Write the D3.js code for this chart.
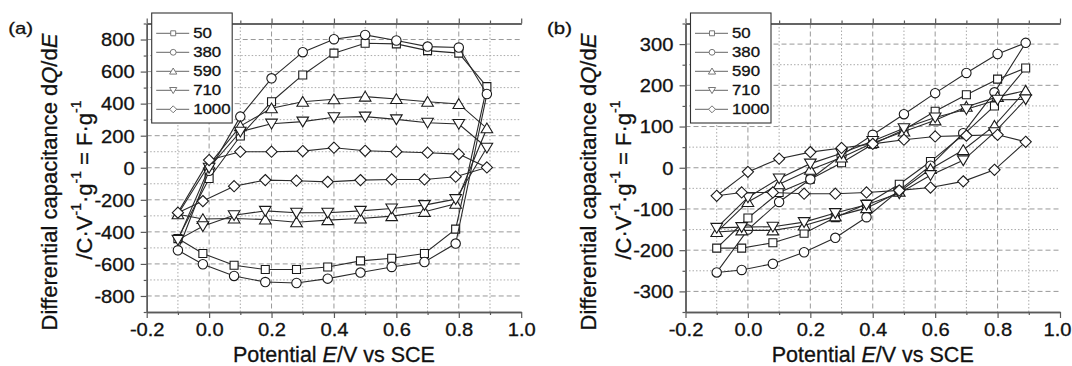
<!DOCTYPE html>
<html>
<head>
<meta charset="utf-8">
<script src="https://cdn.jsdelivr.net/npm/d3@7"></script>
<style>
  body { margin: 0; background: #fff; }
  text { font-family: "Liberation Sans", Arial, sans-serif; fill: #111; stroke: #111; stroke-width: 0.3px; }
</style>
</head>
<body>
<svg id="chart" width="1072" height="366"></svg>
<script>
// potentials along the loop: forward sweep, then back
const potentials = [-0.1, 0.0, 0.1, 0.2, 0.3, 0.4, 0.5, 0.6, 0.7, 0.8, 0.89,
  0.79, 0.69, 0.585, 0.485, 0.38, 0.28, 0.18, 0.08, -0.02, -0.1]

const legendLabels = ['50', '380', '590', '710', '1000']
const markerTypes = ['square', 'circle', 'up', 'down', 'diamond']

// panel (a)
const a50 = [-442, -67, 198, 412, 579, 715, 777, 773, 731, 715, 506, -383, -535, -565, -581, -619, -635, -635, -608, -535, -442]
const a380 = [-515, -19, 319, 558, 721, 802, 829, 794, 756, 750, 460, -473, -588, -619, -654, -692, -719, -713, -675, -602, -515]
const a590 = [-290, 20, 260, 371, 412, 427, 444, 429, 412, 398, 246, -225, -275, -302, -317, -327, -340, -323, -317, -320, -290]
const a710 = [-450, 0, 225, 275, 288, 315, 319, 302, 281, 273, 125, -196, -233, -254, -269, -281, -281, -269, -296, -365, -450]
const a1000 = [-280, 48, 100, 100, 104, 125, 106, 100, 94, 85, 2, -56, -73, -73, -77, -88, -81, -77, -115, -208, -280]

// panel (b)
const b50 = [-195, -122, -60, -28, 12, 57, 92, 137, 177, 215, 242, 150, 80, 15, -40, -88, -121, -159, -182, -195, -195]
const b380 = [-254, -150, -83, -28, 30, 80, 130, 181, 230, 276, 303, 183, 84, 5, -55, -120, -170, -205, -233, -248, -254]
const b590 = [-156, -83, -40, -5, 25, 60, 88, 115, 148, 172, 187, 102, 43, -3, -58, -98, -118, -140, -152, -152, -156]
const b710 = [-146, -72, -26, 10, 35, 65, 96, 122, 142, 165, 166, 86, 18, -18, -62, -90, -110, -132, -143, -144, -146]
const b1000 = [-68, -10, 22, 38, 48, 58, 68, 76, 78, 80, 63, -5, -33, -48, -55, -60, -63, -63, -60, -60, -68]

const xMajor = [-0.2, 0.0, 0.2, 0.4, 0.6, 0.8, 1.0]
const xMinor = [-0.1, 0.1, 0.3, 0.5, 0.7, 0.9]
const yMajorA = [-800, -600, -400, -200, 0, 200, 400, 600, 800]
const yMinorA = [-900, -700, -500, -300, -100, 100, 300, 500, 700, 900]
const yMajorB = [-300, -200, -100, 0, 100, 200, 300]
const yMinorB = [-350, -250, -150, -50, 50, 150, 250, 350]

const svg = d3.select('#chart')
const W = 1072

function markerPath(type, s) {
  switch (type) {
    case 'square': return `M${-4 * s},${-4 * s}h${8 * s}v${8 * s}h${-8 * s}Z`
    case 'circle': {
      let r = 4.7 * s
      return `M${-r},0A${r},${r} 0 1,0 ${r},0A${r},${r} 0 1,0 ${-r},0Z`
    }
    case 'up': return `M0,${-5.3 * s}L${5.8 * s},${4.5 * s}L${-5.8 * s},${4.5 * s}Z`
    case 'down': return `M0,${5.3 * s}L${5.8 * s},${-4.5 * s}L${-5.8 * s},${-4.5 * s}Z`
    case 'diamond': return `M0,${-5.6 * s}L${5.6 * s},0L0,${5.6 * s}L${-5.6 * s},0Z`
  }
}

function drawPanel(left, tag, yDomain, yMajor, yMinor, series) {
  const top = 23.5, bottom = 312, right = left + 374.5
  let x = d3.scaleLinear().domain([-0.2, 1.0]).range([left, right])
  let y = d3.scaleLinear().domain(yDomain).range([bottom, top])
  let g = svg.append('g')

  // grid
  g.append('g').selectAll('line').data(xMajor.slice(1, -1)).join('line')
    .attr('x1', d => x(d)).attr('x2', d => x(d)).attr('y1', top).attr('y2', bottom)
    .attr('stroke', '#999').attr('stroke-dasharray', '5,3')
  g.append('g').selectAll('line').data(xMinor).join('line')
    .attr('x1', d => x(d)).attr('x2', d => x(d)).attr('y1', top).attr('y2', bottom)
    .attr('stroke', '#aaa').attr('stroke-dasharray', '1.5,2')
  g.append('g').selectAll('line').data(yMajor).join('line')
    .attr('y1', d => y(d)).attr('y2', d => y(d)).attr('x1', left).attr('x2', right)
    .attr('stroke', '#999').attr('stroke-dasharray', '5,3')
  g.append('g').selectAll('line').data(yMinor.slice(1, -1)).join('line')
    .attr('y1', d => y(d)).attr('y2', d => y(d)).attr('x1', left).attr('x2', right)
    .attr('stroke', '#aaa').attr('stroke-dasharray', '1.5,2')

  // axes
  let styleAxis = sel => {
    sel.select('.domain').attr('stroke', '#5a5a5a').attr('stroke-width', 1.4)
    sel.selectAll('.tick line').attr('stroke', '#5a5a5a').attr('stroke-width', 1.2)
  }
  g.append('g').attr('transform', `translate(0,${bottom})`)
    .call(d3.axisBottom(x).tickValues(xMinor).tickSize(3).tickSizeOuter(0).tickFormat(''))
    .call(styleAxis)
  let bx = g.append('g').attr('transform', `translate(0,${bottom})`)
    .call(d3.axisBottom(x).tickValues(xMajor).tickSize(6).tickSizeOuter(0).tickPadding(5.5)
      .tickFormat(d => d.toFixed(1)))
    .call(styleAxis)
  bx.selectAll('text').attr('font-size', 17.5).attr('fill', '#111')
    .attr('transform', 'scale(1.15,1)').style('font-family', '"Liberation Sans", Arial, sans-serif')
  // keep the last label inside the picture
  bx.selectAll('text').filter(d => x(d) + 16 > W)
    .attr('text-anchor', 'end').attr('x', d => (W - 1 - x(d)) / 1.15)

  g.append('g').attr('transform', `translate(0,${top})`)
    .call(d3.axisTop(x).tickValues(xMinor).tickSize(3).tickSizeOuter(0).tickFormat(''))
    .call(styleAxis)
  g.append('g').attr('transform', `translate(0,${top})`)
    .call(d3.axisTop(x).tickValues(xMajor).tickSize(5).tickSizeOuter(0).tickFormat(''))
    .call(styleAxis)

  g.append('g').attr('transform', `translate(${left},0)`)
    .call(d3.axisLeft(y).tickValues(yMinor).tickSize(3).tickSizeOuter(0).tickFormat(''))
    .call(styleAxis)
  let ly = g.append('g').attr('transform', `translate(${left},0)`)
    .call(d3.axisLeft(y).tickValues(yMajor).tickSize(6).tickSizeOuter(0).tickPadding(4.5)
      .tickFormat(d => String(d)))
    .call(styleAxis)
  ly.selectAll('text').attr('font-size', 17.5).attr('fill', '#111').attr('dy', '0.36em')
    .attr('transform', 'scale(1.15,1)').style('font-family', '"Liberation Sans", Arial, sans-serif')

  // series
  let line = d3.line().x(d => x(d[0])).y(d => y(d[1]))
  series.forEach((vals, i) => {
    let pts = potentials.map((e, k) => [e, vals[k]])
    g.append('path').attr('d', line(pts)).attr('fill', 'none')
      .attr('stroke', '#2a2a2a').attr('stroke-width', 1.1)
    g.append('g').selectAll('path').data(pts.slice(0, -1)).join('path')
      .attr('transform', d => `translate(${x(d[0])},${y(d[1])})`)
      .attr('d', markerPath(markerTypes[i], 1))
      .attr('fill', '#fff').attr('stroke', '#1a1a1a').attr('stroke-width', 1.1)
  })

  // legend
  let lg = g.append('g').attr('transform', `translate(${left + 5},13)`)
  lg.append('rect').attr('width', 80.5).attr('height', 110)
    .attr('fill', '#fff').attr('stroke', '#333').attr('stroke-width', 1.1)
  legendLabels.forEach((lab, i) => {
    let cy = 20.3 + i * 19
    lg.append('line').attr('x1', 4.5).attr('x2', 37.5).attr('y1', cy).attr('y2', cy)
      .attr('stroke', '#666').attr('stroke-width', 1)
    lg.append('path').attr('transform', `translate(21.5,${cy})`)
      .attr('d', markerPath(markerTypes[i], 0.62))
      .attr('fill', '#fff').attr('stroke', '#777').attr('stroke-width', 1)
    lg.append('text').attr('transform', `translate(41.5,${cy + 5}) scale(1.2,1)`)
      .attr('font-size', 14).text(lab)
  })

  // panel tag
  g.append('text').attr('transform', `translate(${left - 138.5},34) scale(1.2,1)`)
    .attr('font-size', 17).text(tag)

  // y title
  let t1 = g.append('text').attr('transform', `translate(${left - 89.5},182) rotate(-90)`)
    .attr('font-size', 22).attr('text-anchor', 'middle')
  t1.append('tspan').text('Differential capacitance d')
  t1.append('tspan').attr('font-style', 'italic').text('Q')
  t1.append('tspan').text('/d')
  t1.append('tspan').attr('font-style', 'italic').text('E')

  let t2 = g.append('text').attr('transform', `translate(${left - 55},180) rotate(-90)`)
    .attr('font-size', 22).attr('text-anchor', 'middle')
  t2.append('tspan').text('/C·V')
  t2.append('tspan').attr('font-size', 14).attr('dy', -11).text('-1')
  t2.append('tspan').attr('dy', 11).text('·g')
  t2.append('tspan').attr('font-size', 14).attr('dy', -11).text('-1')
  t2.append('tspan').attr('dy', 11).text(' = F·g')
  t2.append('tspan').attr('font-size', 14).attr('dy', -11).text('-1')

  // x title
  let xt = g.append('text').attr('transform', `translate(${(left + right) / 2},361.5)`)
    .attr('font-size', 21.5).attr('text-anchor', 'middle')
  xt.append('tspan').text('Potential ')
  xt.append('tspan').attr('font-style', 'italic').text('E')
  xt.append('tspan').text('/V vs SCE')
}

drawPanel(146.7, '(a)', [-900, 900], yMajorA, yMinorA, [a50, a380, a590, a710, a1000])
drawPanel(685.5, '(b)', [-350, 350], yMajorB, yMinorB, [b50, b380, b590, b710, b1000])
</script>
</body>
</html>
